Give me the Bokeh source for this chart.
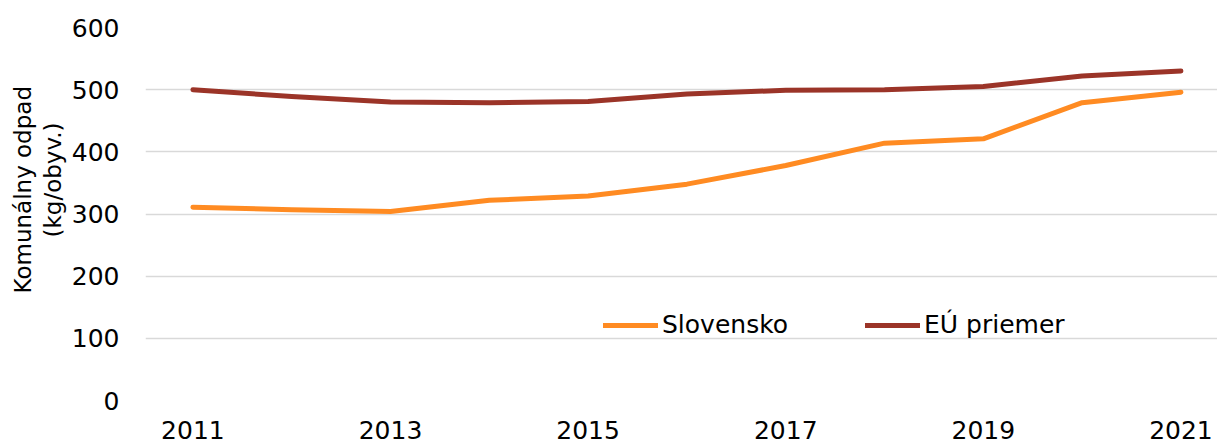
from bokeh.plotting import figure
from bokeh.models import Range1d, Legend, LegendItem, FixedTicker, Title
from bokeh.embed import file_html
from bokeh.resources import INLINE

years = [2011, 2012, 2013, 2014, 2015, 2016, 2017, 2018, 2019, 2020, 2021]
slovensko = [311, 307, 304, 322, 329, 348, 378, 414, 421, 479, 496]
eu_priemer = [500, 489, 480, 479, 481, 493, 499, 500, 505, 522, 530]
x_ticks = [2011, 2013, 2015, 2017, 2019, 2021]
y_ticks = [0, 100, 200, 300, 400, 500, 600]
y_title = ["Komunálny odpad", "(kg/obyv.)"]

FONT = "DejaVu Sans"

p = figure(width=1217, height=447, output_backend="svg", toolbar_location=None,
           x_range=Range1d(2010.52, 2021.37), y_range=Range1d(0, 600),
           min_border_left=145, min_border_right=0, min_border_top=27, min_border_bottom=47)
p.outline_line_color = None
p.background_fill_color = "white"
p.border_fill_color = "white"

p.xgrid.grid_line_color = None
p.ygrid.grid_line_color = "#D9D9D9"
p.ygrid.grid_line_width = 1.5

for ax in (p.xaxis, p.yaxis):
    ax.axis_line_color = None
    ax.major_tick_line_color = None
    ax.minor_tick_line_color = None
    ax.major_label_text_font = FONT
    ax.major_label_text_font_size = "25px"
    ax.major_label_text_color = "#000000"

p.xaxis.ticker = FixedTicker(ticks=x_ticks)
p.yaxis.ticker = FixedTicker(ticks=y_ticks)
p.xaxis.major_label_standoff = 14
p.yaxis.major_label_standoff = 20

# y-axis title: two lines placed in the left panel (first added = nearest the axis)
p.add_layout(Title(text=y_title[1], align="left", offset=163, standoff=5,
                   text_font=FONT, text_font_size="23px", text_font_style="normal",
                   text_color="#000000"), "left")
p.add_layout(Title(text=y_title[0], align="left", offset=107, standoff=0,
                   text_font=FONT, text_font_size="23px", text_font_style="normal",
                   text_color="#000000"), "left")

r1 = p.line(years, slovensko, line_color="#FF8B22", line_width=5, line_cap="round", line_join="round")
r2 = p.line(years, eu_priemer, line_color="#9B3428", line_width=5, line_cap="round", line_join="round")

legend = Legend(items=[LegendItem(label="Slovensko", renderers=[r1]),
                       LegendItem(label="EÚ priemer", renderers=[r2])],
                orientation="horizontal", location=(458, 61),
                glyph_width=55, glyph_height=20, label_height=20, label_standoff=4,
                spacing=77, padding=0, margin=0,
                border_line_color=None, background_fill_alpha=0,
                label_text_font=FONT, label_text_font_size="25px", label_text_color="#000000")
p.add_layout(legend)

open("out.html", "w").write(file_html(p, INLINE))
